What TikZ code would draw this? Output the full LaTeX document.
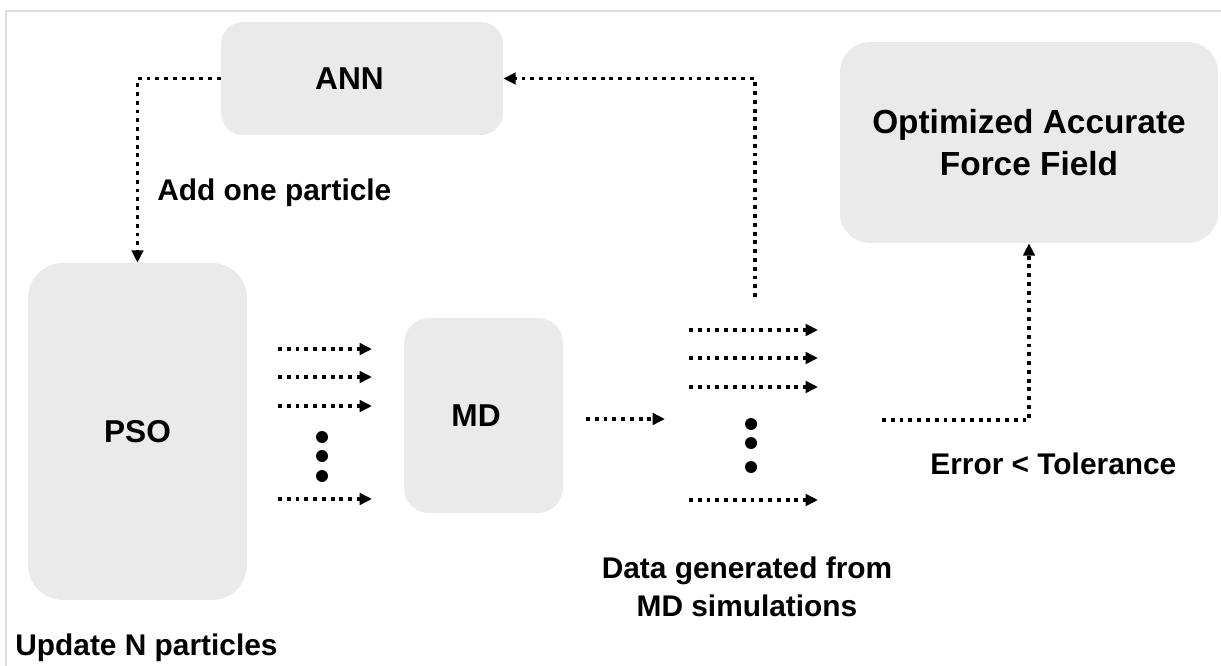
\documentclass[tikz,border=0pt]{standalone}
\usepackage{fontspec}
\setmainfont{Liberation Sans}
\usetikzlibrary{arrows.meta}
\definecolor{boxgray}{HTML}{EAEAEA}
\definecolor{framegray}{HTML}{DDDDDD}
\tikzset{
  box/.style={fill=boxgray, draw=none, inner sep=0pt, align=center,
     font=\bfseries\fontsize{18}{22}\selectfont},
  dotline/.style={line width=2pt, dash pattern=on 2.2pt off 2.8pt},
  arr/.style={dotline, -{Triangle[length=7pt,width=6.5pt]}},
  lbl/.style={font=\bfseries\fontsize{17}{21}\selectfont, inner sep=0pt},
  bigdot/.style={fill=black}
}
\begin{document}
\begin{tikzpicture}[x=0.02cm,y=-0.02cm]
\useasboundingbox (0,0) rectangle (1221,666);
% faint frame
\draw[framegray, line width=0.6pt] (6,666) -- (6,11) -- (1221,11);

% boxes
\node[box, minimum width=5.64cm, minimum height=2.26cm, rounded corners=0.44cm] (ANN) at (362,78.5) {\hspace*{-0.5cm}ANN};
\node[box, minimum width=4.38cm, minimum height=6.74cm, rounded corners=0.7cm] (PSO) at (137.5,431.5) {PSO};
\node[box, minimum width=3.18cm, minimum height=3.9cm, rounded corners=0.5cm] (MD) at (483.5,415.5) {\hspace*{-0.3cm}MD};
\node[box, minimum width=7.56cm, minimum height=4.02cm, rounded corners=0.6cm,
      font=\bfseries\fontsize{19}{24}\selectfont] (OPT) at (1029,142.5) {Optimized Accurate\\Force Field};

% labels
\node[lbl, anchor=west] (addlbl) at (157,193) {Add one particle};
\node[lbl, anchor=west] (updlbl) at (15,648) {Update N particles};
\node[lbl, align=center, font=\bfseries\fontsize{17}{21.5}\selectfont] (datalbl) at (747,587) {Data generated from\\MD simulations};
\node[lbl, anchor=west] (errlbl) at (930,464) {Error < Tolerance};

% ANN -> PSO
\draw[arr] (ANN.west) -| (PSO.north);

% data -> ANN
\coordinate (fb) at (755,297);
\draw[arr] (fb) |- (ANN.east);

% PSO -> MD arrows
\coordinate (p1s) at (278,349); \coordinate (p1e) at (372,349);
\coordinate (p2s) at (278,377); \coordinate (p2e) at (372,377);
\coordinate (p3s) at (278,406); \coordinate (p3e) at (372,406);
\coordinate (p4s) at (278,499); \coordinate (p4e) at (372,499);
\draw[arr] (p1s) -- (p1e);
\draw[arr] (p2s) -- (p2e);
\draw[arr] (p3s) -- (p3e);
\draw[arr] (p4s) -- (p4e);
\fill[bigdot] (322,437) circle (0.12cm);
\fill[bigdot] (322,456) circle (0.12cm);
\fill[bigdot] (322,476) circle (0.12cm);

% MD -> data
\coordinate (m1s) at (586,419); \coordinate (m1e) at (665,419);
\draw[arr] (m1s) -- (m1e);

% data arrows
\coordinate (d1s) at (689,330); \coordinate (d1e) at (818,330);
\coordinate (d2s) at (689,358); \coordinate (d2e) at (818,358);
\coordinate (d3s) at (689,387); \coordinate (d3e) at (818,387);
\coordinate (d4s) at (689,500); \coordinate (d4e) at (818,500);
\draw[arr] (d1s) -- (d1e);
\draw[arr] (d2s) -- (d2e);
\draw[arr] (d3s) -- (d3e);
\draw[arr] (d4s) -- (d4e);
\fill[bigdot] (751,424) circle (0.12cm);
\fill[bigdot] (751,443) circle (0.12cm);
\fill[bigdot] (751,467) circle (0.12cm);

% error -> optimized
\coordinate (es) at (882,420);
\draw[arr] (es) -| (OPT.south);
\end{tikzpicture}
\end{document}
